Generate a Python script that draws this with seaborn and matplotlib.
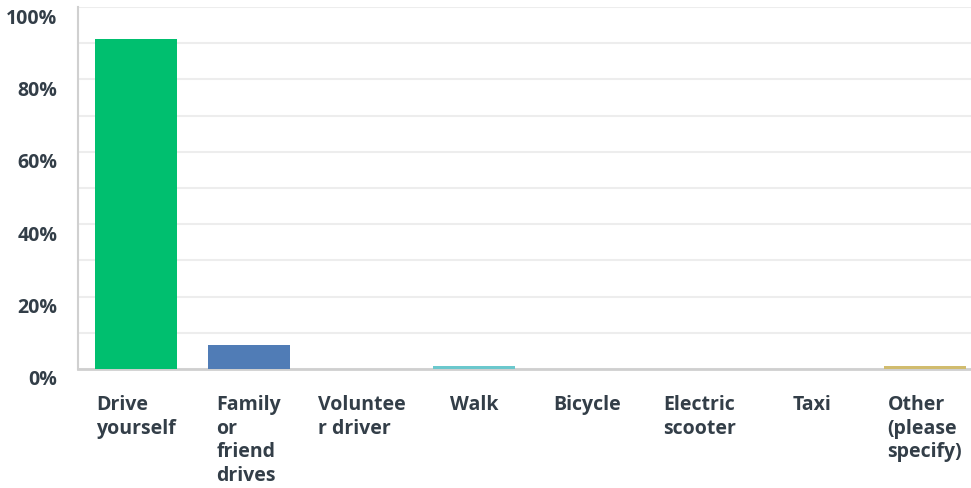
import numpy as np
import pandas as pd
import seaborn as sns
import matplotlib as mpl
import matplotlib.pyplot as plt
import matplotlib.transforms as mtrans

categories = ['Drive yourself', 'Family or friend drives', 'Volunteer driver', 'Walk',
              'Bicycle', 'Electric scooter', 'Taxi', 'Other (please specify)']
tick_labels = ['Drive\nyourself', 'Family\nor\nfriend\ndrives', 'Voluntee\nr driver', 'Walk',
               'Bicycle', 'Electric\nscooter', 'Taxi', 'Other\n(please\nspecify)']
percent = [91.2, 6.6, 0.0, 0.7, 0.0, 0.0, 0.0, 0.7]
colors = ['#00BF6F', '#507CB6', '#F9BE00', '#6BC8CD', '#FF8B4F', '#7D9CC2', '#A0A0A0', '#D1BC6E']
y_ticks = [0, 20, 40, 60, 80, 100]

sns.set_style('white')
plt.rcParams['font.family'] = ['Open Sans', 'DejaVu Sans']

df = pd.DataFrame({'cat': categories, 'pct': percent})

fig = plt.figure(figsize=(9.71, 4.89), dpi=100)
ax = fig.add_axes([78 / 971, 119 / 489, 893 / 971, 362 / 489])

bar_w = 0.73
sns.barplot(data=df, x='cat', y='pct', hue='cat', palette=colors, legend=False,
            width=bar_w, saturation=1, linewidth=0, ax=ax, zorder=3)

ax.set_ylim(0, 100)
ax.set_xlim(-0.515, 7.41)

# gridlines every 10%, labels every 20% sitting a little under the line
ax.set_yticks(y_ticks)
ax.set_yticks(np.arange(10, 100, 20), minor=True)
ax.yaxis.grid(True, which='both', color='#EDEDED', lw=1.5)
ax.set_axisbelow(True)
ax.set_yticklabels([f'{t}%' for t in y_ticks], fontsize=14, fontweight='bold', color='#333E48')
ax.tick_params(axis='y', which='both', length=0, pad=15)
off = mtrans.ScaledTranslation(0, -8 / 100, fig.dpi_scale_trans)
for lab in ax.get_yticklabels():
    lab.set_transform(lab.get_transform() + off)

ax.set_xticks(np.arange(len(categories)))
ax.set_xticklabels(tick_labels, ha='center', va='top', multialignment='left', fontsize=14,
                   fontweight='bold', color='#333E48', linespacing=1.25)
ax.tick_params(axis='x', length=0, pad=18)
ax.set(xlabel='', ylabel='')

for s in ['top', 'right']:
    ax.spines[s].set_visible(False)
ax.spines['left'].set_color('#D0D0D0')
ax.spines['left'].set_linewidth(1.5)
ax.spines['bottom'].set_color('#CFCFCF')
ax.spines['bottom'].set_linewidth(2)
ax.spines['bottom'].set_zorder(2.5)

plt.savefig('out.png', dpi=100)
plt.close()
